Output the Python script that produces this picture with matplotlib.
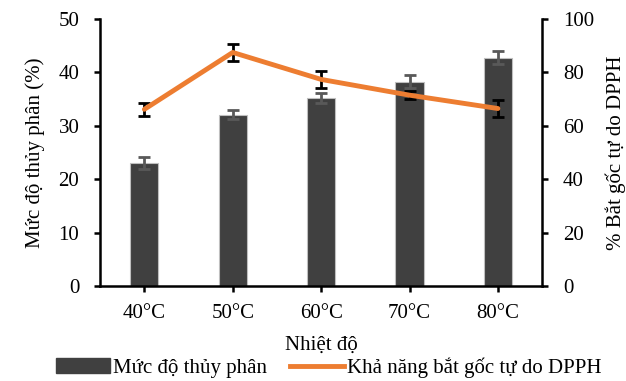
import numpy as np
import matplotlib.pyplot as plt
from matplotlib.patches import Patch
from matplotlib.lines import Line2D

plt.rcParams['font.family'] = ['Liberation Serif', 'DejaVu Serif']
plt.rcParams['font.size'] = 15

# --- dati ---
categories = ['40°C', '50°C', '60°C', '70°C', '80°C']
thuy_phan = [23.0, 32.1, 35.2, 38.3, 42.8]
thuy_phan_err = [1.1, 0.9, 0.9, 1.2, 1.3]
dpph = [66.2, 87.5, 77.4, 71.5, 66.5]
dpph_err = [2.4, 3.1, 3.1, 1.6, 3.1]

bar_color = '#404040'
line_color = '#ED7D31'

fig = plt.figure(figsize=(6.26, 3.81), dpi=100)
ax = fig.add_axes([0.16, 0.249, 0.706, 0.701])
x = np.arange(len(categories))

ax.bar(x, thuy_phan, width=0.32, color=bar_color, edgecolor='#bfbfbf', linewidth=0.8, zorder=2)
ax.errorbar(x, thuy_phan, yerr=thuy_phan_err, fmt='none', ecolor='#595959',
            elinewidth=2, capsize=4, capthick=2, zorder=3)
ax.set_ylim(0, 50)
ax.set_yticks(range(0, 51, 10))
ax.set_xlim(-0.5, len(categories) - 0.5)
ax.set_xticks(x)
ax.set_xticklabels(categories)
ax.set_ylabel('Mức độ thủy phân (%)', labelpad=10)
ax.set_xlabel('Nhiệt độ', labelpad=9)

ax2 = ax.twinx()
ax2.plot(x, dpph, color=line_color, linewidth=3.5, solid_capstyle='round', zorder=4)
ax2.errorbar(x, dpph, yerr=dpph_err, fmt='none', ecolor='black',
             elinewidth=2, capsize=4, capthick=2, zorder=3)
ax2.set_ylim(0, 100)
ax2.set_yticks(range(0, 101, 20))
ax2.set_ylabel('% Bắt gốc tự do DPPH', labelpad=8)

for a in (ax, ax2):
    a.spines['top'].set_visible(False)
    for s in ('left', 'right', 'bottom'):
        a.spines[s].set_linewidth(1.8)
    a.tick_params(width=1.8, length=4, direction='out')
    a.tick_params(axis='y', pad=11)
ax.tick_params(axis='x', pad=9)
ax.spines['right'].set_visible(False)
ax2.spines['left'].set_visible(False)
ax2.spines['bottom'].set_visible(False)

handles = [Patch(facecolor=bar_color, edgecolor=bar_color),
           Line2D([0], [0], color=line_color, linewidth=3.5)]
fig.legend(handles, ['Mức độ thủy phân', 'Khả năng bắt gốc tự do DPPH'],
           loc='center', bbox_to_anchor=(0.525, 0.035), ncol=2, frameon=False,
           handlelength=2.6, handletextpad=0.15, columnspacing=1.1)

fig.savefig('out.png', dpi=100)
